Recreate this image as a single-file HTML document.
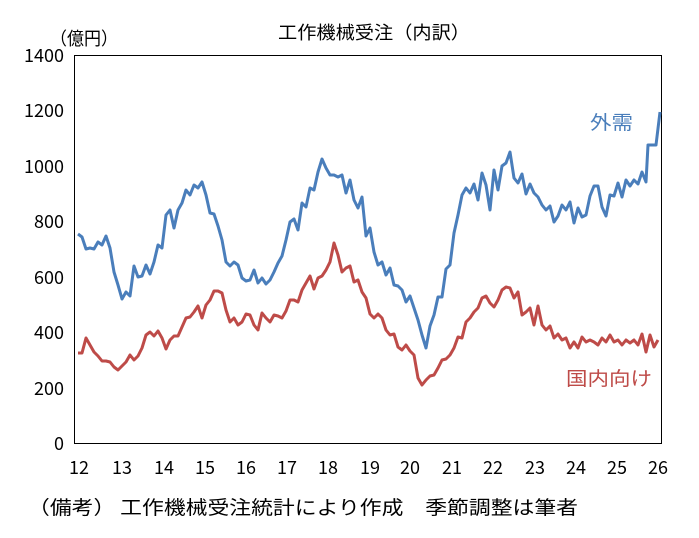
<!DOCTYPE html>
<html><head><meta charset="utf-8"><style>
body{margin:0;background:#fff;}
svg text{font-family:"Noto Sans CJK JP","Liberation Sans",sans-serif;fill:#000;}
</style></head><body>
<svg width="699" height="533" viewBox="0 0 699 533" xmlns="http://www.w3.org/2000/svg">
<rect x="0" y="0" width="699" height="533" fill="#fff"/>
<text x="278" y="39" font-size="18" textLength="192" lengthAdjust="spacingAndGlyphs">工作機械受注（内訳）</text>
<text x="50" y="45" font-size="18" textLength="68" lengthAdjust="spacingAndGlyphs">（億円）</text>
<g stroke="#000" stroke-width="1" fill="none">
<rect x="74.5" y="55.5" width="587" height="388"/>
</g>
<g font-size="18" text-anchor="end">
<text x="64" y="62">1400</text><text x="64" y="117">1200</text><text x="64" y="173">1000</text><text x="64" y="228">800</text><text x="64" y="284">600</text><text x="64" y="339">400</text><text x="64" y="395">200</text><text x="64" y="450">0</text>
</g>
<g font-size="18" text-anchor="middle">
<text x="79" y="474">12</text><text x="122" y="474">13</text><text x="164" y="474">14</text><text x="205" y="474">15</text><text x="246" y="474">16</text><text x="287" y="474">17</text><text x="328" y="474">18</text><text x="370" y="474">19</text><text x="410" y="474">20</text><text x="452" y="474">21</text><text x="493" y="474">22</text><text x="535" y="474">23</text><text x="576" y="474">24</text><text x="617" y="474">25</text><text x="658" y="474">26</text>
</g>
<polyline fill="none" stroke="#4a7ebb" stroke-width="3" stroke-linejoin="round" points="78,234 82,237 86,249 90,248 94,249 98,242 102,245 106,236 110,248 114,272 118,285 122,299 126,292 130,296 134,266 138,277 142,276 146,265 150,274 154,262 158,245 162,248 166,215 170,210 174,228 178,210 182,203 186,190 190,195 194,185 198,188 202,182 206,195 210,213 214,214 218,226 222,240 226,262 230,266 234,262 238,265 242,278 246,281 250,280 254,270 258,283 262,278 266,284 270,280 274,272 278,263 282,256 286,240 290,222 294,219 298,230 302,203 306,207 310,188 314,190 318,172 322,159 326,168 330,175 334,175 338,177 342,175 346,193 350,180 354,200 358,208 362,197 366,236 370,228 374,252 378,265 382,262 386,275 390,268 394,285 398,286 402,290 406,302 410,296 414,308 418,320 422,335 426,348 430,326 434,315 438,297 442,297 446,269 450,265 454,233 458,215 462,195 466,188 470,193 474,184 478,200 482,173 486,185 490,210 494,170 498,190 502,166 506,163 510,152 514,178 518,183 522,174 526,194 530,184 534,193 538,197 542,205 546,210 550,206 554,222 558,216 562,205 566,210 570,202 574,223 578,208 582,217 586,215 590,196 594,186 598,186 602,207 606,216 610,195 614,196 618,183 622,197 626,180 630,186 634,180 638,184 642,172 646,182 648,145 652,145 656,145 660,112"/>
<polyline fill="none" stroke="#be4b48" stroke-width="3" stroke-linejoin="round" points="78,353 82,353 86,338 90,345 94,352 98,356 102,361 106,361 110,362 114,367 118,370 122,366 126,362 130,355 134,360 138,356 142,348 146,335 150,332 154,336 158,331 162,338 166,349 170,340 174,336 178,336 182,327 186,318 190,317 194,312 198,306 202,318 206,305 210,300 214,291 218,291 222,293 226,310 230,322 234,318 238,325 242,322 246,314 250,315 254,325 258,330 262,313 266,318 270,322 274,315 278,316 282,318 286,311 290,300 294,300 298,302 302,290 306,283 310,276 314,289 318,278 322,276 326,270 330,262 334,243 338,255 342,272 346,268 350,266 354,282 358,280 362,292 366,298 370,314 374,318 378,314 382,318 386,330 390,335 394,334 398,347 402,350 406,345 410,351 414,355 418,378 422,385 426,380 430,376 434,375 438,368 442,360 446,359 450,355 454,348 458,337 462,338 466,322 470,318 474,312 478,308 482,298 486,296 490,303 494,307 498,300 502,290 506,287 510,288 514,298 518,292 522,315 526,312 530,308 534,325 538,306 542,325 546,330 550,326 554,338 558,334 562,340 566,338 570,348 574,342 578,348 582,337 586,342 590,340 594,342 598,345 602,338 606,342 610,335 614,342 618,340 622,345 626,340 630,343 634,340 638,345 642,334 646,352 650,335 654,347 658,340"/>
<text x="590" y="129" font-size="19" textLength="43" lengthAdjust="spacingAndGlyphs" style="fill:#4a7ebb">外需</text>
<text x="566" y="385" font-size="19" textLength="86" lengthAdjust="spacingAndGlyphs" style="fill:#be4b48">国内向け</text>
<text x="28" y="514" font-size="19" textLength="550" lengthAdjust="spacingAndGlyphs">（備考） 工作機械受注統計により作成　季節調整は筆者</text>
</svg>
</body></html>
